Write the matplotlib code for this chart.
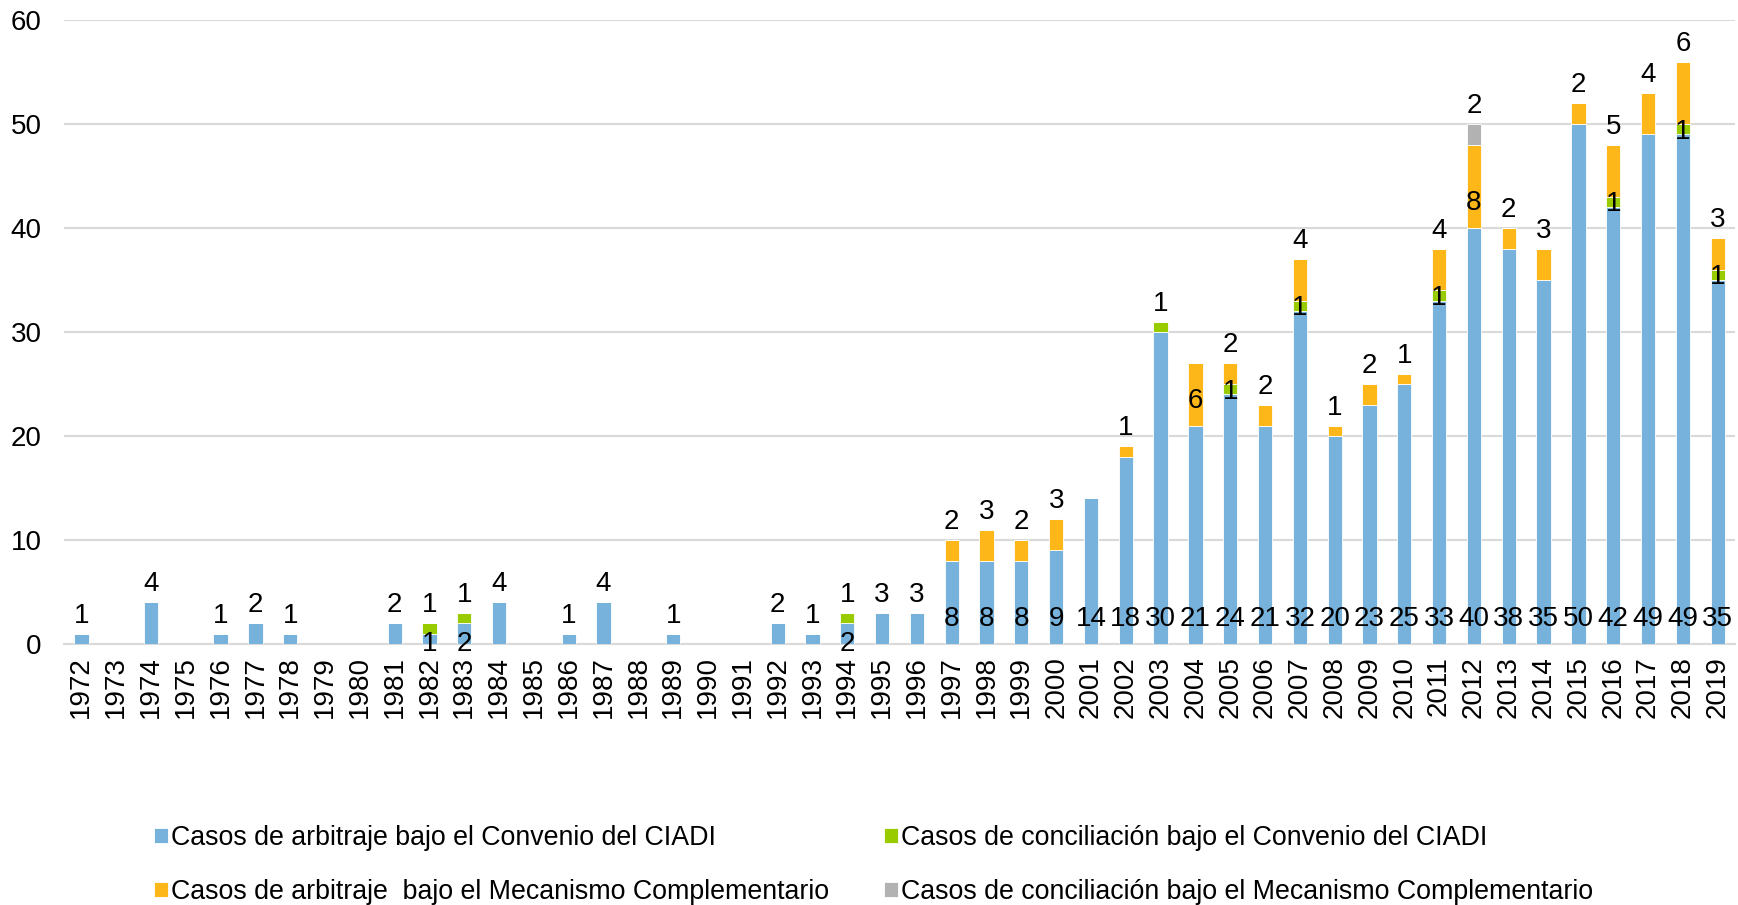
import numpy as np
import matplotlib
matplotlib.use('Agg')
from matplotlib import pyplot as plt

plt.rcParams['font.family'] = ['Liberation Sans', 'DejaVu Sans']

years = list(range(1972, 2020))
# Casos de arbitraje bajo el Convenio del CIADI
arb_ciadi = [1, 0, 4, 0, 1, 2, 1, 0, 0, 2, 1, 2, 4, 0, 1, 4, 0, 1, 0, 0, 2, 1, 2, 3,
             3, 8, 8, 8, 9, 14, 18, 30, 21, 24, 21, 32, 20, 23, 25, 33, 40, 38, 35, 50,
             42, 49, 49, 35]
# Casos de conciliación bajo el Convenio del CIADI
conc_ciadi = [0, 0, 0, 0, 0, 0, 0, 0, 0, 0, 1, 1, 0, 0, 0, 0, 0, 0, 0, 0, 0, 0, 1, 0,
              0, 0, 0, 0, 0, 0, 0, 1, 0, 1, 0, 1, 0, 0, 0, 1, 0, 0, 0, 0,
              1, 0, 1, 1]
# Casos de arbitraje bajo el Mecanismo Complementario
arb_mc = [0, 0, 0, 0, 0, 0, 0, 0, 0, 0, 0, 0, 0, 0, 0, 0, 0, 0, 0, 0, 0, 0, 0, 0,
          0, 2, 3, 2, 3, 0, 1, 0, 6, 2, 2, 4, 1, 2, 1, 4, 8, 2, 3, 2,
          5, 4, 6, 3]
# Casos de conciliación bajo el Mecanismo Complementario
conc_mc = [0] * 40 + [2] + [0] * 7

series_names = ['Casos de arbitraje bajo el Convenio del CIADI',
                'Casos de conciliación bajo el Convenio del CIADI',
                'Casos de arbitraje  bajo el Mecanismo Complementario',
                'Casos de conciliación bajo el Mecanismo Complementario']
colors = ['#76B2DB', '#99CC00', '#FDB718', '#B2B2B2']

# orange labels drawn inside the segment instead of on top
inside_mc = [2004, 2012]

fs = 20
fig = plt.figure(figsize=(17.38, 9.05), dpi=100)
ax = fig.add_axes([0.0368, 0.2884, 0.9615, 0.6895])

x = np.arange(len(years))
data = [np.array(arb_ciadi), np.array(conc_ciadi), np.array(arb_mc), np.array(conc_mc)]
bottoms = [np.zeros(len(years))]
for d in data[:-1]:
    bottoms.append(bottoms[-1] + d)
total = bottoms[-1] + data[-1]

handles = []
for d, b, c, name in zip(data, bottoms, colors, series_names):
    h = ax.bar(x, d, bottom=b, width=0.41, color=c, edgecolor='white', linewidth=0.6,
               label=name, zorder=3)
    handles.append(h)

def label(i, y, txt, off):
    ax.annotate(txt, (x[i], y), xytext=(0, off), textcoords='offset points',
                ha='center', va='center', fontsize=fs, zorder=5)

for i, yr in enumerate(years):
    a, g, o, s = data[0][i], data[1][i], data[2][i], data[3][i]
    stacked = (g + o + s) > 0
    # blue
    if a > 0:
        if not stacked and a < 5:
            label(i, a, str(a), 13)
        elif a < 5:
            label(i, 0, str(a), 0)
        else:
            label(i, 0, str(a), 18)
    # green
    if g > 0:
        if o + s == 0:
            label(i, total[i], str(g), 13)
        else:
            label(i, bottoms[1][i], str(g), 2)
    # orange
    if o > 0:
        if yr in inside_mc:
            label(i, bottoms[2][i], str(o), 18)
        else:
            label(i, total[i], str(o), 13)
    # gray
    if s > 0:
        label(i, total[i], str(s), 13)

ax.set_xlim(-0.5, len(years) - 0.5)
ax.set_ylim(0, 60)
ax.set_yticks(range(0, 61, 10))
ax.set_xticks(x)
ax.set_xticklabels([str(y) for y in years], rotation=90)
ax.tick_params(axis='x', length=0, pad=9, labelsize=fs)
ax.tick_params(axis='y', length=0, pad=16, labelsize=fs)
ax.grid(axis='y', color='#D9D9D9', linewidth=1.5, zorder=0)
for sp in ['top', 'right', 'left']:
    ax.spines[sp].set_visible(False)
ax.spines['bottom'].set_color('#D9D9D9')
ax.spines['bottom'].set_linewidth(1.5)

fig.legend(handles=[handles[0], handles[2], handles[1], handles[3]],
           labels=[series_names[0], series_names[2], series_names[1], series_names[3]],
           ncol=2, loc='center left', bbox_to_anchor=(0.075, 0.044), frameon=False,
           fontsize=19.3, handlelength=0.5, handleheight=0.5, handletextpad=0.12,
           columnspacing=2.05, labelspacing=1.05)

fig.savefig('out.png', dpi=100)
